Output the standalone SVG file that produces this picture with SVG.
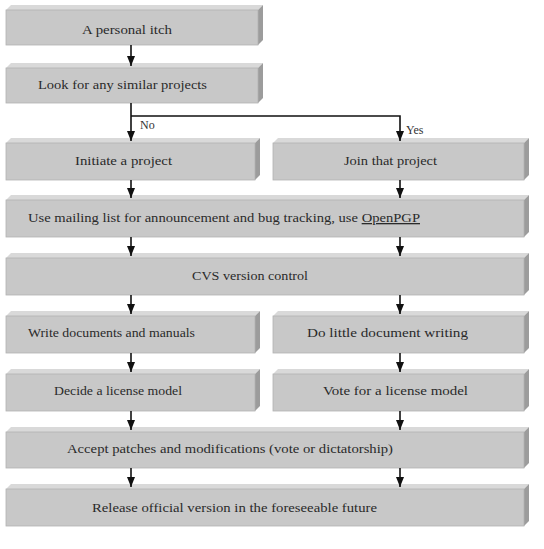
<svg xmlns="http://www.w3.org/2000/svg" width="544" height="549" viewBox="0 0 544 549">
<style>
.front{fill:#c8c8c8;stroke:#b2b2b2;stroke-width:0.8}
.top{fill:#d9d9d9}
.side{fill:#9c9c9c}
.t{font-family:'Liberation Serif','DejaVu Serif',serif;font-size:13px;fill:#2a2a2a}
.lbl{font-family:'Liberation Serif','DejaVu Serif',serif;font-size:12px;fill:#333}
.c{fill:none;stroke:#111;stroke-width:1.6}
</style>
<defs>
<marker id="ah" markerUnits="userSpaceOnUse" markerWidth="10" markerHeight="10" viewBox="0 0 10 10" refX="10" refY="5" orient="auto">
<path d="M0,1 L10,5 L0,9 Z" fill="#111"/>
</marker>
</defs>
<rect width="544" height="549" fill="#fff"/>

<g id="n1">
<polygon class="top" points="6,10 11,5 263,5 258,10"/>
<polygon class="side" points="258,10 263,5 263,40 258,45"/>
<rect class="front" x="6" y="10" width="252" height="35"/>
<text class="t" x="82" y="34" textLength="90" lengthAdjust="spacingAndGlyphs">A personal itch</text>
</g>
<g id="n2">
<polygon class="top" points="6,68 11,63 263,63 258,68"/>
<polygon class="side" points="258,68 263,63 263,98 258,103"/>
<rect class="front" x="6" y="68" width="252" height="35"/>
<text class="t" x="38" y="89" textLength="169" lengthAdjust="spacingAndGlyphs">Look for any similar projects</text>
</g>
<g id="n3">
<polygon class="top" points="6,143 11,138 260,138 255,143"/>
<polygon class="side" points="255,143 260,138 260,175 255,180"/>
<rect class="front" x="6" y="143" width="249" height="37"/>
<text class="t" x="75" y="165" textLength="97" lengthAdjust="spacingAndGlyphs">Initiate a project</text>
</g>
<g id="n4">
<polygon class="top" points="273,143 278,138 529,138 524,143"/>
<polygon class="side" points="524,143 529,138 529,175 524,180"/>
<rect class="front" x="273" y="143" width="251" height="37"/>
<text class="t" x="344" y="165" textLength="93" lengthAdjust="spacingAndGlyphs">Join that project</text>
</g>
<g id="n5">
<polygon class="top" points="6,200 11,195 529,195 524,200"/>
<polygon class="side" points="524,200 529,195 529,232 524,237"/>
<rect class="front" x="6" y="200" width="518" height="37"/>
<text class="t" x="28" y="222" textLength="392" lengthAdjust="spacingAndGlyphs">Use mailing list for announcement and bug tracking, use <tspan text-decoration="underline">OpenPGP</tspan></text>
</g>
<g id="n6">
<polygon class="top" points="6,258 11,253 529,253 524,258"/>
<polygon class="side" points="524,258 529,253 529,290 524,295"/>
<rect class="front" x="6" y="258" width="518" height="37"/>
<text class="t" x="192" y="280" textLength="116" lengthAdjust="spacingAndGlyphs">CVS version control</text>
</g>
<g id="n7">
<polygon class="top" points="6,316 11,311 260,311 255,316"/>
<polygon class="side" points="255,316 260,311 260,348 255,353"/>
<rect class="front" x="6" y="316" width="249" height="37"/>
<text class="t" x="28" y="337" textLength="167" lengthAdjust="spacingAndGlyphs">Write documents and manuals</text>
</g>
<g id="n8">
<polygon class="top" points="273,316 278,311 529,311 524,316"/>
<polygon class="side" points="524,316 529,311 529,348 524,353"/>
<rect class="front" x="273" y="316" width="251" height="37"/>
<text class="t" x="307" y="337" textLength="161" lengthAdjust="spacingAndGlyphs">Do little document writing</text>
</g>
<g id="n9">
<polygon class="top" points="6,374 11,369 260,369 255,374"/>
<polygon class="side" points="255,374 260,369 260,406 255,411"/>
<rect class="front" x="6" y="374" width="249" height="37"/>
<text class="t" x="54" y="395" textLength="128" lengthAdjust="spacingAndGlyphs">Decide a license model</text>
</g>
<g id="n10">
<polygon class="top" points="273,374 278,369 529,369 524,374"/>
<polygon class="side" points="524,374 529,369 529,406 524,411"/>
<rect class="front" x="273" y="374" width="251" height="37"/>
<text class="t" x="323" y="395" textLength="145" lengthAdjust="spacingAndGlyphs">Vote for a license model</text>
</g>
<g id="n11">
<polygon class="top" points="6,432 11,427 529,427 524,432"/>
<polygon class="side" points="524,432 529,427 529,463 524,468"/>
<rect class="front" x="6" y="432" width="518" height="36"/>
<text class="t" x="67" y="453" textLength="326" lengthAdjust="spacingAndGlyphs">Accept patches and modifications (vote or dictatorship)</text>
</g>
<g id="n12">
<polygon class="top" points="6,489 11,484 529,484 524,489"/>
<polygon class="side" points="524,489 529,484 529,521 524,526"/>
<rect class="front" x="6" y="489" width="518" height="37"/>
<text class="t" x="92" y="512" textLength="285" lengthAdjust="spacingAndGlyphs">Release official version in the foreseeable future</text>
</g>

<g id="connectors">
<path class="c" d="M131,45 V66" marker-end="url(#ah)"/>
<path class="c" d="M131,103 V141" marker-end="url(#ah)"/>
<path class="c" d="M131,116 H400 V141" marker-end="url(#ah)"/>
<path class="c" d="M131,180 V198" marker-end="url(#ah)"/>
<path class="c" d="M400,180 V198" marker-end="url(#ah)"/>
<path class="c" d="M131,237 V256" marker-end="url(#ah)"/>
<path class="c" d="M400,237 V256" marker-end="url(#ah)"/>
<path class="c" d="M131,295 V314" marker-end="url(#ah)"/>
<path class="c" d="M400,295 V314" marker-end="url(#ah)"/>
<path class="c" d="M131,353 V372" marker-end="url(#ah)"/>
<path class="c" d="M400,353 V372" marker-end="url(#ah)"/>
<path class="c" d="M131,411 V430" marker-end="url(#ah)"/>
<path class="c" d="M400,411 V430" marker-end="url(#ah)"/>
<path class="c" d="M131,468 V487" marker-end="url(#ah)"/>
<path class="c" d="M400,468 V487" marker-end="url(#ah)"/>
<text class="lbl" x="140" y="129">No</text>
<text class="lbl" x="406" y="134">Yes</text>
</g>
</svg>
